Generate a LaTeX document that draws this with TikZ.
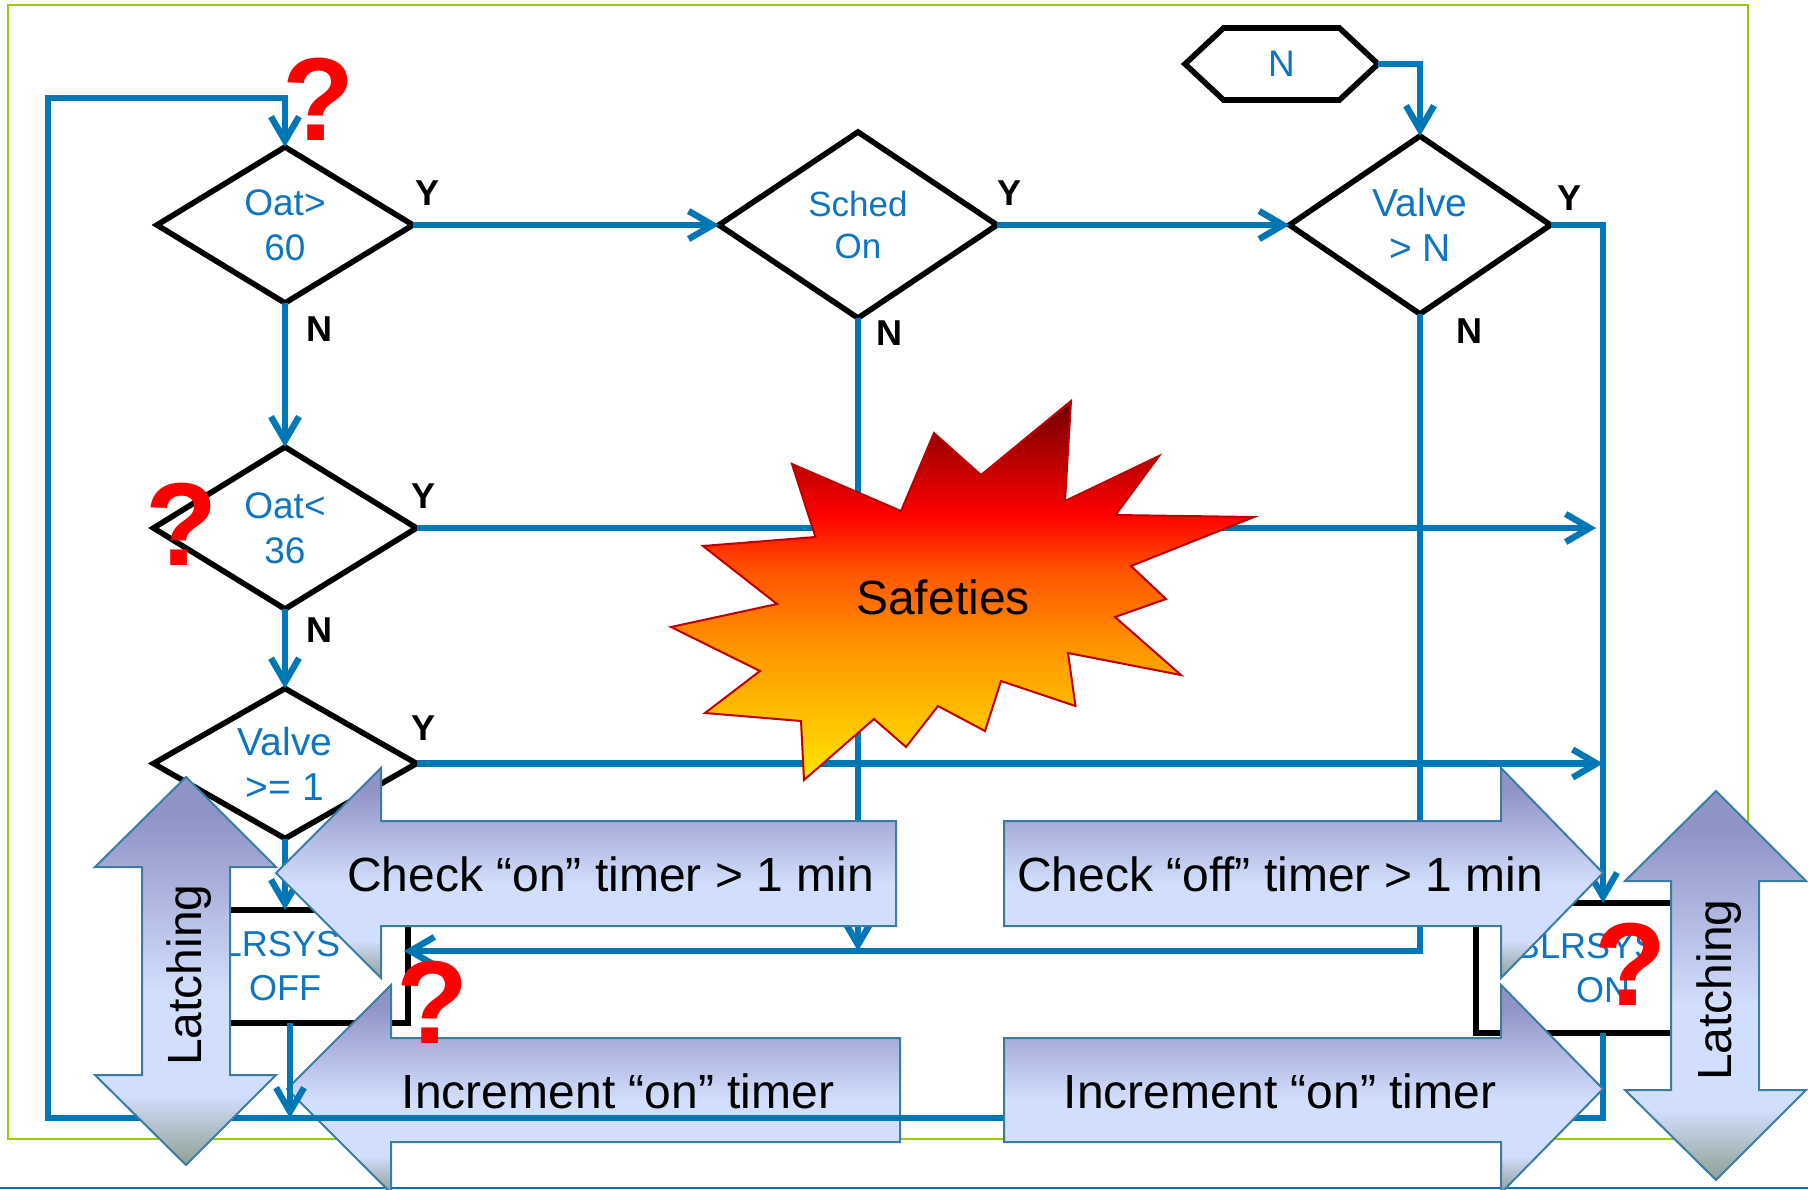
\documentclass[tikz,border=0pt]{standalone}
\usepackage{fontspec}
\setmainfont{Liberation Sans}
\usepackage{tikz}
\usetikzlibrary{shapes,arrows.meta}

\definecolor{flowblue}{HTML}{0077B5}
\definecolor{textblue}{HTML}{0F75C0}
\definecolor{framegreen}{HTML}{99CC00}
\definecolor{arrowedge}{HTML}{3A7CA5}
\definecolor{arrowtop}{HTML}{9093C6}
\definecolor{arrowmid}{HTML}{D2DEFD}
\definecolor{arrowlow}{HTML}{8E9F93}
\definecolor{blastlow}{HTML}{FFE600}
\definecolor{blastc}{HTML}{FF9500}
\definecolor{blastb}{HTML}{FF5500}
\definecolor{blasttop}{HTML}{6E0000}
\pgfdeclareverticalshading{bluearrow}{100bp}{color(0bp)=(arrowlow); color(25bp)=(arrowlow); color(34bp)=(arrowmid); color(47.5bp)=(arrowmid); color(70bp)=(arrowtop); color(100bp)=(arrowtop)}
\pgfdeclareverticalshading{blast}{100bp}{color(0bp)=(blastlow); color(25bp)=(blastlow); color(42.5bp)=(blastc); color(52.5bp)=(blastb); color(60bp)=(red); color(75bp)=(blasttop); color(100bp)=(blasttop)}

\begin{document}
\begin{tikzpicture}[x=0.5pt, y=-0.5pt]
	\tikzstyle{decision} = [diamond, aspect=1.7, draw, fill=white, line width=2.8pt, inner sep=0pt, outer sep=0pt, align=center, text=textblue, font=\fontsize{17.5}{22.5}\selectfont]
	\tikzstyle{process} = [rectangle, draw, fill=white, line width=2.8pt, inner sep=0pt, outer sep=0pt, align=center, text=textblue, font=\fontsize{18}{22}\selectfont]
	\tikzstyle{line} = [draw=flowblue, line width=3.2pt, -{Straight Barb[length=12pt,width=14pt]}]
	\tikzstyle{yn} = [font=\fontsize{18}{18}\bfseries\selectfont, inner sep=0pt]
	\tikzstyle{bigarrow} = [draw=arrowedge, line width=1pt, shade, shading=bluearrow]
	\tikzstyle{bigtext} = [font=\fontsize{24}{24}\selectfont, inner sep=0pt]
	\tikzstyle{query} = [text=red, font=\fontsize{59}{59}\bfseries\selectfont, inner sep=0pt, anchor=base]
	\useasboundingbox (0,0) rectangle (1808,1189);
	\clip (0,0) rectangle (1808,1189);
	\fill[white] (0,0) rectangle (1808,1189);
	\draw[framegreen, line width=1.3pt] (8,5) rectangle (1748,1139);
	\draw[flowblue, line width=1pt] (0,1187.5) -- (1808,1187.5);
	% Place nodes
	\node [decision, minimum width=128pt, minimum height=78pt, font=\fontsize{18.5}{22.5}\selectfont] (oat60) at (285,225) {Oat>\\60};
	\node [decision, minimum width=139pt, minimum height=93pt, font=\fontsize{17.5}{21}\selectfont] (sched) at (858,225) {Sched\\On};
	\node [decision, minimum width=130.5pt, minimum height=89pt, font=\fontsize{19.5}{22.5}\selectfont] (valven) at (1420,225) {Valve\\> N};
	\node [decision, minimum width=131.5pt, minimum height=81pt, font=\fontsize{18.5}{22.5}\selectfont] (oat36) at (285,528) {Oat<\\36};
	\node [decision, minimum width=131.5pt, minimum height=75pt, font=\fontsize{19.5}{22.5}\selectfont] (valve1) at (285,763.5) {Valve\\>= 1};
	\node [process, minimum width=123pt, minimum height=56.5pt] (blrsoff) at (285,966.5) {BLRSYS\kern16pt\\OFF};
	\node [process, minimum width=127pt, minimum height=65pt] (blrson) at (1603,968) {BLRSYS\kern16pt\\ON};
	\node [signal, signal to=east and west, signal pointer angle=86, draw, fill=white, line width=2.8pt, inner sep=0pt, outer sep=0pt, minimum width=96.5pt, minimum height=36pt, text=textblue, font=\fontsize{18.5}{22.5}\selectfont] (hexn) at (1281.5,64) {N};
	\path [bigarrow] (287,1089) -- (391,985) -- (391,1038) -- (900,1038) -- (900,1142) -- (391,1142) -- (391,1193) -- cycle;
	\coordinate (retoff) at (404,951);
	\coordinate (offbot) at (290,1118);
	\coordinate (join36) at (1596,528);
	\coordinate (loopbl) at (48,1118);
	\coordinate (looptl) at (48,98);
	% Draw edges
	\path [line] (hexn.east) -| (valven.north);
	\path [line] (oat60.east) -- (sched.west);
	\path [line] (sched.east) -- (valven.west);
	\path [line] (valven.east) -| (blrson.north);
	\path [line] (oat60.south) -- (oat36.north);
	\path [line] (oat36.south) -- (valve1.north);
	\path [line] (valve1.south) -- (blrsoff.north);
	\path [line] (oat36.east) -- (join36);
	\path [line] (valve1.east) -- (valve1.east -| blrson.north);
	\path [line] (sched.south) -- (sched.south |- retoff);
	\path [line] (valven.south) |- (retoff);
	\path [line] (blrsoff.south -| offbot) -- (offbot);
	\path [line] (blrson.south) |- (loopbl) -- (looptl) -| (oat60.north);
	% Y and N labels
	\node [yn] (y1) at (427,193) {Y};
	\node [yn] (n1) at (319,329) {N};
	\node [yn] (y2) at (1009,193) {Y};
	\node [yn] (n2) at (889,333) {N};
	\node [yn] (y3) at (1569,198) {Y};
	\node [yn] (n3) at (1469,331) {N};
	\node [yn] (y4) at (423,496) {Y};
	\node [yn] (n4) at (319,630) {N};
	\node [yn] (y5) at (423,728) {Y};
	% Burst
	\path [draw=red!75!black, line width=1pt, shade, shading=blast] (1071,401) -- (1065,501) -- (1159,456) -- (1115.5,515) -- (1254,517) -- (1131,566) -- (1166,599) -- (1115,617) -- (1181,675) -- (1068,653) -- (1075.5,706) -- (1001,681) -- (985,731) -- (938,706) -- (906,747) -- (874,719) -- (804,780) -- (801,721) -- (705,713) -- (760,671) -- (671,627) -- (777,604) -- (703,546) -- (815.5,537) -- (792,464) -- (901,511) -- (934,433) -- (981,475) -- cycle;
	\node [bigtext] (safe) at (943,597) {Safeties};
	% Big arrows
	\path [bigarrow] (276,873) -- (381,768) -- (381,821) -- (896,821) -- (896,926) -- (381,926) -- (381,978) -- cycle;
	\path [bigarrow] (1603,873) -- (1501,768) -- (1501,821) -- (1004,821) -- (1004,926) -- (1501,926) -- (1501,978) -- cycle;
	\path [bigarrow] (1603,1089) -- (1501,985) -- (1501,1038) -- (1004,1038) -- (1004,1142) -- (1501,1142) -- (1501,1193) -- cycle;
	\path [bigarrow] (186,777) -- (276,867) -- (230,867) -- (230,1075) -- (276,1075) -- (186,1165) -- (95,1075) -- (142,1075) -- (142,867) -- (95,867) -- cycle;
	\path [bigarrow] (1716,791) -- (1806,881) -- (1759,881) -- (1759,1090) -- (1806,1090) -- (1716,1180) -- (1625,1090) -- (1671,1090) -- (1671,881) -- (1625,881) -- cycle;
	\node [bigtext] (chkon) at (610.5,874) {Check “on” timer > 1 min};
	\node [bigtext] (chkoff) at (1280,874) {Check “off” timer > 1 min};
	\node [bigtext] (incl) at (618,1091) {Increment “on” timer};
	\node [bigtext] (incr) at (1280,1091) {Increment “on” timer};
	\node [bigtext, rotate=90] (latchl) at (189,975) {Latching};
	\node [bigtext, rotate=90] (latchr) at (1719,990) {Latching};
	% Question marks
	\node [query] (q1) at (319,140) {?};
	\node [query] (q2) at (182,565) {?};
	\node [query] (q3) at (433,1043) {?};
	\node [query] (q4) at (1631,1005) {?};
\end{tikzpicture}
\end{document}
